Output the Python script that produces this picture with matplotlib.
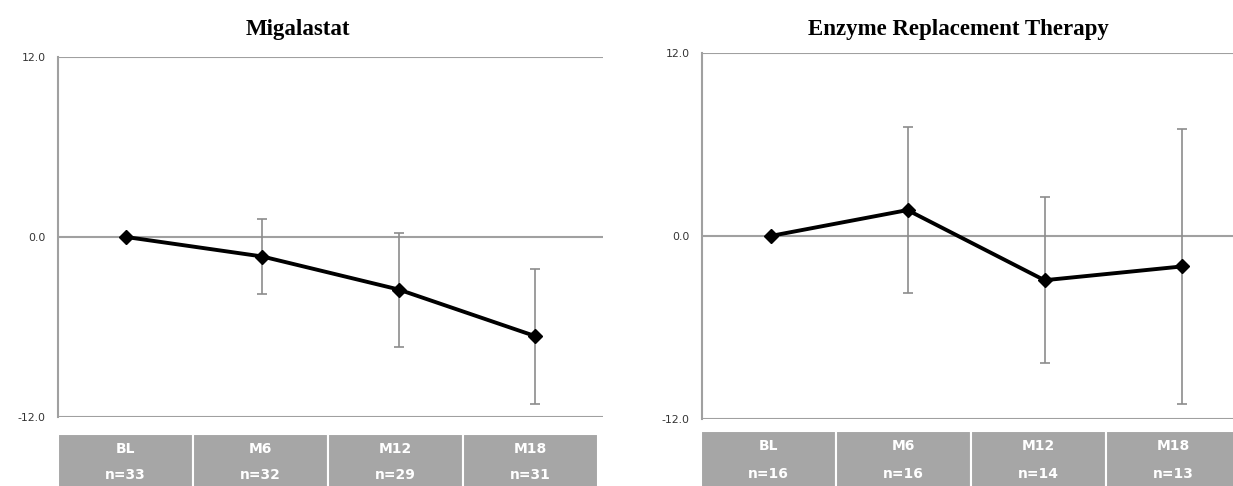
import matplotlib
matplotlib.use('Agg')
import matplotlib.pyplot as plt
from matplotlib.patches import Rectangle

# data
categories = ['BL', 'M6', 'M12', 'M18']
mig_mean = [0.0, -1.3, -3.5, -6.6]
mig_err = [0.0, 2.5, 3.8, 4.5]
mig_n = [33, 32, 29, 31]
ert_mean = [0.0, 1.7, -2.9, -2.0]
ert_err = [0.0, 5.45, 5.45, 9.0]
ert_n = [16, 16, 14, 13]
y_ticks = [-12.0, 0.0, 12.0]

W, H = 1233, 486
fig = plt.figure(figsize=(W / 100, H / 100), dpi=100)

GRID = '#a0a0a0'
TABLE = '#a6a6a6'


def panel(rect, table_rect, title, title_x, mean, err, n_list):
    ax = fig.add_axes(rect)
    x = list(range(len(categories)))
    ax.errorbar(x, mean, yerr=err, fmt='none', ecolor='#8c8c8c', elinewidth=1.2,
                capsize=3.5, capthick=1.2, zorder=2)
    ax.plot(x, mean, color='black', lw=2.8, marker='D', markersize=7, zorder=3)
    for t in y_ticks:
        ax.axhline(t, color=GRID, lw=1.5, zorder=1)
    ax.set_xlim(-0.5, 3.5)
    ax.set_ylim(-12, 12)
    ax.set_xticks([])
    ax.set_yticks(y_ticks)
    ax.set_yticklabels(['%.1f' % t for t in y_ticks], fontsize=7.8, color='#333333')
    ax.tick_params(axis='y', length=0, pad=9)
    for s in ['top', 'right', 'bottom']:
        ax.spines[s].set_visible(False)
    ax.spines['left'].set_color(GRID)
    ax.spines['left'].set_linewidth(1.5)
    fig.text(title_x, 1 - 29 / H, title, ha='center', va='center', fontsize=16.5,
             fontweight='bold', family='Liberation Serif')

    # gray table under the plot
    tb = fig.add_axes(table_rect)
    tb.set_xlim(0, 4)
    tb.set_ylim(0, 1)
    tb.axis('off')
    for i, (c, n) in enumerate(zip(categories, n_list)):
        tb.add_patch(Rectangle((i, 0), 1, 1, facecolor=TABLE, edgecolor='white', lw=1.5))
        tb.text(i + 0.5, 0.73, c, ha='center', va='center', color='white',
                fontsize=10, fontweight='bold')
        tb.text(i + 0.5, 0.24, 'n=%d' % n, ha='center', va='center', color='white',
                fontsize=10, fontweight='bold')


panel([58 / W, (H - 417) / H, 545 / W, 360 / H],
      [58 / W, (H - 488) / H, 540 / W, 54 / H],
      'Migalastat', 298 / W, mig_mean, mig_err, mig_n)
panel([702 / W, (H - 419) / H, 548 / W, 366 / H],
      [701 / W, (H - 488) / H, 540 / W, 57 / H],
      'Enzyme Replacement Therapy', 958 / W, ert_mean, ert_err, ert_n)

fig.savefig('out.png', dpi=100)
